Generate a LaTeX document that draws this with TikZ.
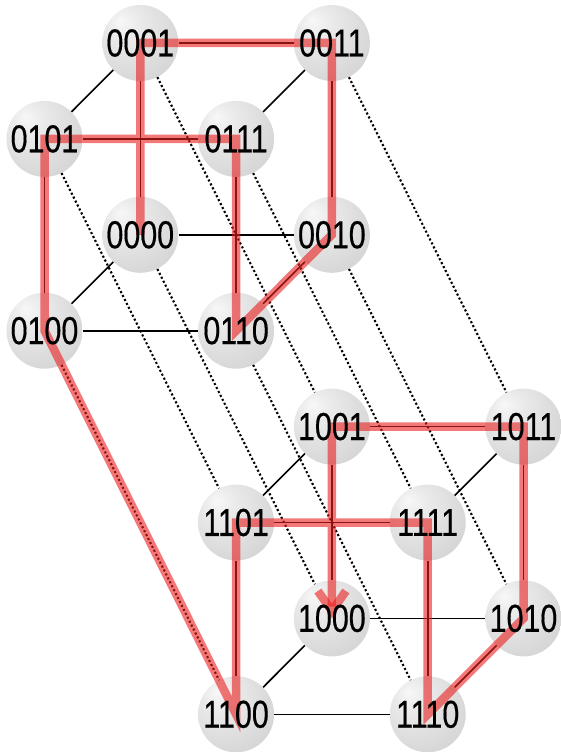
\documentclass[tikz,border=0pt]{standalone}
\usepackage{fontspec}
\newfontfamily\lblfont[FakeStretch=0.78,FakeBold=0.4]{Liberation Sans}
\usetikzlibrary{arrows.meta}
\definecolor{pathred}{RGB}{235,30,30}
\pgfdeclareradialshading{sphere}{\pgfpoint{-13bp}{15bp}}{%
  color(0bp)=(gray!6);
  color(10bp)=(gray!16);
  color(28bp)=(gray!28);
  color(50bp)=(gray!42);
  color(70bp)=(gray!52)}
\tikzset{
  ballnode/.style={circle, minimum size=76pt, inner sep=0pt, shading=sphere},
  lbl/.style={inner sep=0pt, font=\lblfont\fontsize{39}{39}\selectfont},
  cubeedge/.style={black, line width=1.6pt},
  crossedge/.style={black, line width=2.1pt, dash pattern=on 2.1pt off 2.3pt},
  graypath/.style={draw=pathred, draw opacity=0.6, line width=8.5pt, line join=miter,
    -{Straight Barb[length=20pt, width=28pt]}},
}
\begin{document}
\begin{tikzpicture}[x=1pt, y=-1pt]
\useasboundingbox (0,0) rectangle (561,752);
% balls
\foreach \n/\x/\y in {0001/140.3/43, 0011/331.9/43, 0101/44.5/138.9, 0111/236.1/138.9,
  0000/140.3/234.8, 0010/331.9/234.8, 0100/44.5/330.7, 0110/236.1/330.7,
  1001/331.9/426.6, 1011/523.5/426.6, 1101/236.1/522.5, 1111/427.7/522.5,
  1000/331.9/618.4, 1010/523.5/618.4, 1100/236.1/714.3, 1110/427.7/714.3}
  \node[ballnode] (n\n) at (\x,\y) {};
% cube edges
\foreach \p in {0,1}{
  \foreach \a/\b in {000/001, 000/010, 000/100, 001/011, 001/101, 010/011,
                     010/110, 100/101, 100/110, 011/111, 101/111, 110/111}
    \draw[cubeedge] (n\p\a) -- (n\p\b);
}
% edges between the two cubes
\foreach \a in {000,001,010,011,100,101,110,111}
  \draw[crossedge] (n0\a) -- (n1\a);
% Gray code path
\draw[graypath] (n0000.center) -- (n0001.center) -- (n0011.center) -- (n0010.center)
  -- (n0110.center) -- (n0111.center) -- (n0101.center) -- (n0100.center)
  -- (n1100.center) -- (n1101.center) -- (n1111.center) -- (n1110.center)
  -- (n1010.center) -- (n1011.center) -- (n1001.center) -- (n1000.center);
% labels
\foreach \n in {0001,0011,0101,0111,0000,0010,0100,0110,
                1001,1011,1101,1111,1000,1010,1100,1110}
  \node[lbl] (t\n) at (n\n) {\n};
\end{tikzpicture}
\end{document}
